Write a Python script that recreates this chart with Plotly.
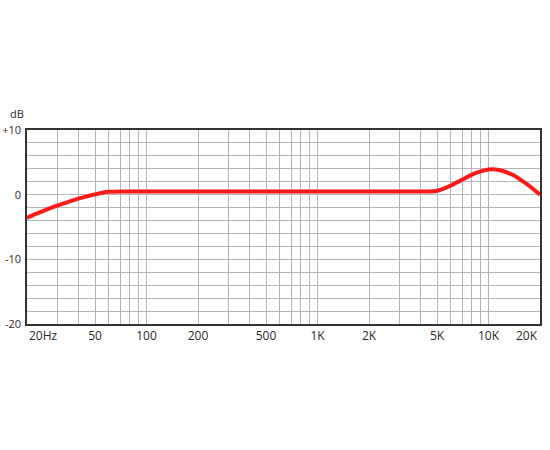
import math
import plotly.graph_objects as go

# frequency response
freq_hz = [20, 22, 25, 30, 35, 40, 45, 50, 55, 60, 70, 100, 500, 1000, 3000, 4500,
           5000, 6000, 7000, 8000, 9000, 10000, 11000, 12000, 14000, 16000, 18000, 20000]
level_db = [-3.6, -3.1, -2.5, -1.7, -1.1, -0.6, -0.25, 0.05, 0.3, 0.45, 0.5, 0.5, 0.5, 0.5, 0.5, 0.5,
            0.6, 1.4, 2.3, 3.1, 3.6, 3.9, 3.9, 3.7, 3.0, 2.0, 1.0, 0.0]

x_tickvals = [50, 100, 200, 500, 1000, 2000, 5000, 10000]
x_ticktext = ["50", "100", "200", "500", "1K", "2K", "5K", "10K"]
x_edge_vals = [20, 20000]
x_edge_text = ["20Hz", "20K"]
x_minor = [30, 40, 60, 70, 80, 90, 300, 400, 600, 700, 800, 900,
           3000, 4000, 6000, 7000, 8000, 9000]
y_tickvals = [10, 0, -10, -20]
y_ticktext = ["+10", "0", "-10", "-20"]

grid = "#b4b4b4"
axis_font = dict(family="Open Sans", size=12, color="#2a2a2a")

fig = go.Figure()
fig.add_trace(
    go.Scatter(
        x=freq_hz,
        y=level_db,
        mode="lines",
        line=dict(color="#ff1a1a", width=4, shape="spline", smoothing=0.6),
        hoverinfo="skip",
    )
)

fig.update_xaxes(
    type="log",
    range=[math.log10(20), math.log10(20000)],
    tickvals=x_tickvals,
    ticktext=x_ticktext,
    ticks="",
    tickfont=axis_font,
    automargin=False,
    showgrid=True,
    gridcolor=grid,
    gridwidth=1,
    minor=dict(tickvals=x_minor, showgrid=True, gridcolor=grid, gridwidth=1, ticks=""),
    showline=True,
    linecolor="#333333",
    linewidth=1.5,
    mirror=True,
    zeroline=False,
)
fig.update_yaxes(
    range=[-20, 10],
    tickvals=y_tickvals,
    ticktext=y_ticktext,
    ticks="",
    ticklabelstandoff=2,
    tickfont=dict(family="Open Sans", size=11, color="#2a2a2a"),
    automargin=False,
    showgrid=True,
    gridcolor=grid,
    gridwidth=1,
    minor=dict(dtick=2, showgrid=True, gridcolor=grid, gridwidth=1, ticks=""),
    showline=True,
    linecolor="#333333",
    linewidth=1.5,
    mirror=True,
    zeroline=False,
)

# end labels sit inside the frame in the reference
for val, txt, anchor in zip(x_edge_vals, x_edge_text, ["left", "right"]):
    fig.add_annotation(
        text=txt, xref="x", yref="paper", x=math.log10(val), y=0,
        xanchor=anchor, yanchor="top", yshift=-1, showarrow=False,
        font=axis_font,
    )

fig.add_annotation(
    text="dB", xref="paper", yref="paper", x=0, y=1,
    xanchor="right", yanchor="bottom", xshift=-1, yshift=7, showarrow=False,
    font=dict(family="Open Sans", size=11, color="#2a2a2a"),
)

fig.update_layout(
    width=550,
    height=450,
    template="plotly_white",
    plot_bgcolor="white",
    paper_bgcolor="white",
    showlegend=False,
    margin=dict(l=27, r=10, t=130, b=126),
)

fig.write_html(
    "out.html",
    config={"displayModeBar": False},
    post_script="document.body.style.margin='0';",
)
